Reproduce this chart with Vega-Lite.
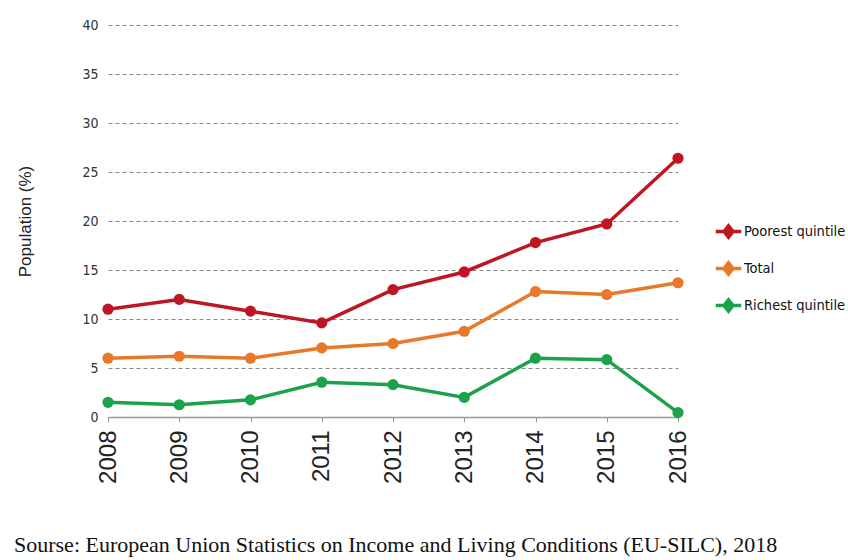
{
  "$schema": "https://vega.github.io/schema/vega-lite/v6.json",
  "autosize": {"type": "none"},
  "width": 570,
  "height": 392,
  "padding": {"left": 108, "top": 25, "right": 170, "bottom": 143},
  "background": "white",
  "config": {"view": {"stroke": null}},
  "title": {
    "text": "Sourse: European Union Statistics on Income and Living Conditions (EU-SILC), 2018",
    "orient": "bottom",
    "anchor": "start",
    "frame": "group",
    "dx": -94,
    "offset": 52,
    "font": "Liberation Serif",
    "fontSize": 22,
    "fontWeight": "normal",
    "color": "#111111"
  },
  "data": {
    "values": [
      {"year": 2008, "group": "Poorest quintile", "value": 11.0},
      {"year": 2009, "group": "Poorest quintile", "value": 12.0},
      {"year": 2010, "group": "Poorest quintile", "value": 10.8},
      {"year": 2011, "group": "Poorest quintile", "value": 9.6},
      {"year": 2012, "group": "Poorest quintile", "value": 13.0},
      {"year": 2013, "group": "Poorest quintile", "value": 14.8},
      {"year": 2014, "group": "Poorest quintile", "value": 17.8},
      {"year": 2015, "group": "Poorest quintile", "value": 19.7},
      {"year": 2016, "group": "Poorest quintile", "value": 26.4},
      {"year": 2008, "group": "Total", "value": 6.0},
      {"year": 2009, "group": "Total", "value": 6.2},
      {"year": 2010, "group": "Total", "value": 6.0},
      {"year": 2011, "group": "Total", "value": 7.05},
      {"year": 2012, "group": "Total", "value": 7.5},
      {"year": 2013, "group": "Total", "value": 8.75},
      {"year": 2014, "group": "Total", "value": 12.8},
      {"year": 2015, "group": "Total", "value": 12.5},
      {"year": 2016, "group": "Total", "value": 13.7},
      {"year": 2008, "group": "Richest quintile", "value": 1.5},
      {"year": 2009, "group": "Richest quintile", "value": 1.25},
      {"year": 2010, "group": "Richest quintile", "value": 1.75},
      {"year": 2011, "group": "Richest quintile", "value": 3.55},
      {"year": 2012, "group": "Richest quintile", "value": 3.3},
      {"year": 2013, "group": "Richest quintile", "value": 2.0},
      {"year": 2014, "group": "Richest quintile", "value": 6.0},
      {"year": 2015, "group": "Richest quintile", "value": 5.85},
      {"year": 2016, "group": "Richest quintile", "value": 0.45}
    ]
  },
  "encoding": {
    "x": {
      "field": "year",
      "type": "quantitative",
      "scale": {"domain": [2008, 2016], "nice": false, "zero": false},
      "axis": {
        "title": null,
        "values": [2008, 2009, 2010, 2011, 2012, 2013, 2014, 2015, 2016],
        "format": "d",
        "grid": false,
        "domainColor": "#999999",
        "domainWidth": 1.5,
        "tickColor": "#999999",
        "tickSize": 5,
        "labelAngle": 270,
        "labelAlign": "right",
        "labelBaseline": "middle",
        "labelFont": "Liberation Sans",
        "labelFontSize": 24,
        "labelColor": "#222222",
        "labelPadding": 8
      }
    },
    "y": {
      "field": "value",
      "type": "quantitative",
      "scale": {"domain": [0, 40], "nice": false},
      "axis": {
        "title": "Population (%)",
        "titleFont": "Liberation Sans",
        "titleFontSize": 17,
        "titleFontWeight": "normal",
        "titleColor": "#222222",
        "titlePadding": 47,
        "values": [0, 5, 10, 15, 20, 25, 30, 35, 40],
        "domain": false,
        "ticks": false,
        "grid": true,
        "gridDash": [4, 3],
        "gridColor": "#888888",
        "gridWidth": 1,
        "labelFont": "DejaVu Sans Condensed, Liberation Sans Narrow, sans-serif",
        "labelFontSize": 14,
        "labelColor": "#333333",
        "labelPadding": 10
      }
    },
    "color": {
      "field": "group",
      "type": "nominal",
      "scale": {
        "domain": ["Poorest quintile", "Total", "Richest quintile"],
        "range": ["#BE1622", "#E8782A", "#1DA24C"]
      },
      "legend": {
        "title": null,
        "orient": "none",
        "legendX": 606,
        "legendY": 192,
        "symbolType": "M-1,0H1M-0.35,0L0,-0.45L0.35,0L0,0.45Z",
        "symbolSize": 650,
        "symbolStrokeWidth": 3.5,
        "symbolOpacity": 1,
        "labelFont": "DejaVu Sans Condensed, Liberation Sans Narrow, sans-serif",
        "labelFontSize": 14.5,
        "labelColor": "#111111",
        "labelOffset": 1,
        "rowPadding": 9,
        "labelLimit": 300
      }
    }
  },
  "layer": [
    {"mark": {"type": "line", "strokeWidth": 3.5}},
    {"mark": {"type": "point", "filled": true, "shape": "circle", "size": 125, "opacity": 1}}
  ]
}
